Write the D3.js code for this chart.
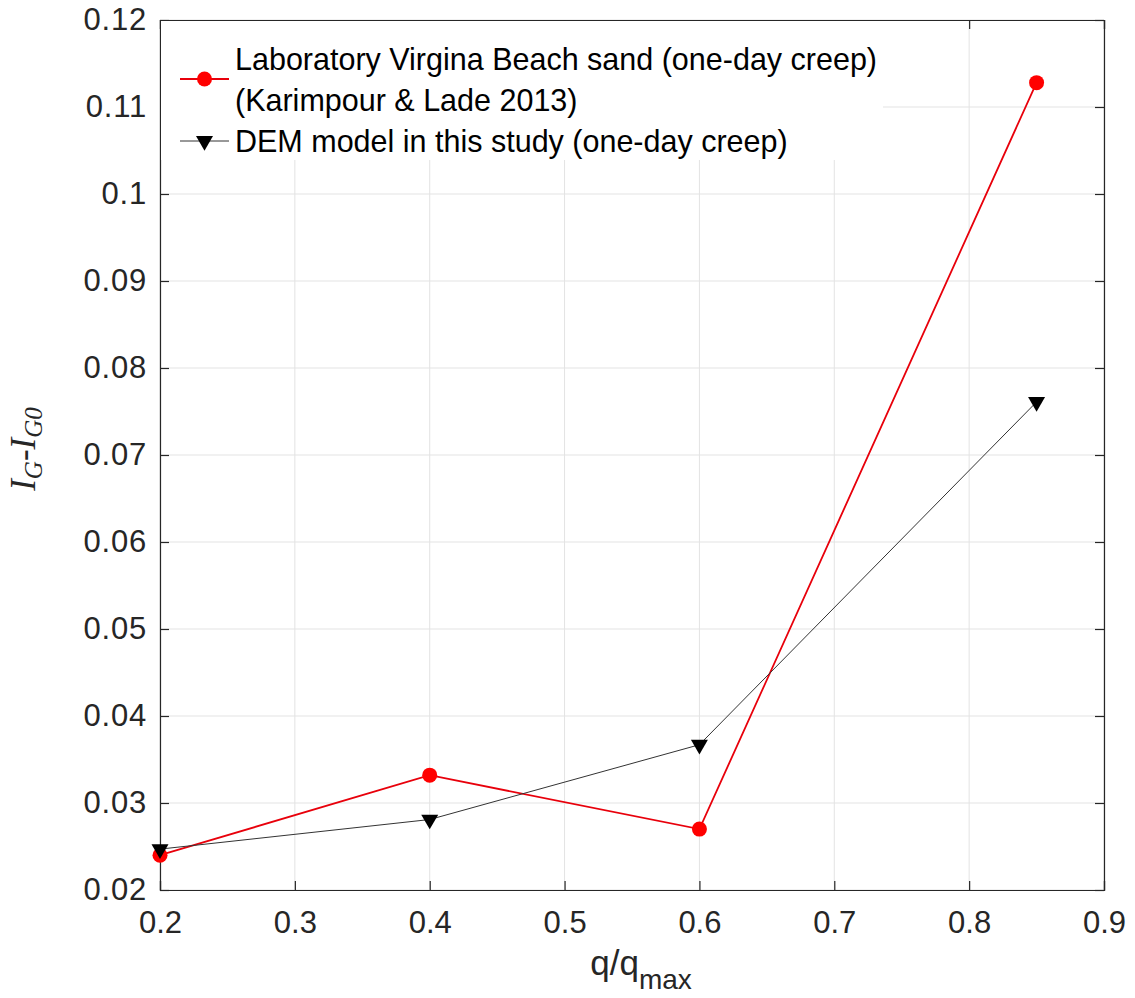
<!DOCTYPE html>
<html>
<head>
<meta charset="utf-8">
<script src="https://cdn.jsdelivr.net/npm/d3@7"></script>
<style>
  html, body { margin: 0; padding: 0; background: #fff; }
  svg { display: block; }
</style>
</head>
<body>
<svg id="chart" width="1135" height="998"></svg>
<script>
// Stress level ratio q/q_max
const qRatio = [0.2, 0.4, 0.6, 0.85];
// Change in grading index I_G - I_G0 after one-day creep
const labValues = [0.0240, 0.0332, 0.0270, 0.1128];
const demValues = [0.0247, 0.0281, 0.0367, 0.0761];

const xTicks = [0.2, 0.3, 0.4, 0.5, 0.6, 0.7, 0.8, 0.9];
const yTicks = [0.02, 0.03, 0.04, 0.05, 0.06, 0.07, 0.08, 0.09, 0.1, 0.11, 0.12];

const legendLabels = [
  ["Laboratory Virgina Beach sand (one-day creep)", "(Karimpour & Lade 2013)"],
  ["DEM model in this study (one-day creep)"]
];

const svg = d3.select("#chart");
const m = { left: 160, top: 20, right: 1104, bottom: 890 };

const x = d3.scaleLinear().domain([0.2, 0.9]).range([m.left, m.right]);
const y = d3.scaleLinear().domain([0.02, 0.12]).range([m.bottom, m.top]);

const axisColor = "#262626";
const font = "Arial, 'Liberation Sans', Helvetica, sans-serif";

// grid
svg.append("g").selectAll("line").data(xTicks).join("line")
  .attr("x1", d => x(d)).attr("x2", d => x(d))
  .attr("y1", m.top).attr("y2", m.bottom)
  .attr("stroke", "#e3e3e3").attr("stroke-width", 1);
svg.append("g").selectAll("line").data(yTicks).join("line")
  .attr("y1", d => y(d)).attr("y2", d => y(d))
  .attr("x1", m.left).attr("x2", m.right)
  .attr("stroke", "#e3e3e3").attr("stroke-width", 1);

// axes (ticks pointing inward, boxed)
const tickLen = 9;
const fmt = d => String(+d.toFixed(2));
const bottomAxis = d3.axisBottom(x).tickValues(xTicks).tickSize(-tickLen).tickPadding(21).tickFormat(fmt);
const leftAxis = d3.axisLeft(y).tickValues(yTicks).tickSize(-tickLen).tickPadding(13).tickFormat(fmt);
const topAxis = d3.axisTop(x).tickValues(xTicks).tickSize(-tickLen).tickFormat("");
const rightAxis = d3.axisRight(y).tickValues(yTicks).tickSize(-tickLen).tickFormat("");

function styleAxis(g) {
  g.select(".domain").attr("stroke", axisColor).attr("stroke-width", 1.2);
  g.selectAll(".tick line").attr("stroke", axisColor).attr("stroke-width", 1.2);
  g.selectAll(".tick text").attr("fill", "#262626")
    .style("font-family", font).style("font-size", "31px");
}
svg.append("g").attr("transform", `translate(0,${m.bottom})`).call(bottomAxis).call(styleAxis);
svg.append("g").attr("transform", `translate(${m.left},0)`).call(leftAxis).call(styleAxis)
  .selectAll(".tick text").style("letter-spacing", "0.8px");
svg.append("g").attr("transform", `translate(0,${m.top})`).call(topAxis).call(styleAxis);
svg.append("g").attr("transform", `translate(${m.right},0)`).call(rightAxis).call(styleAxis);

// axis labels
const xl = svg.append("text")
  .attr("x", 641).attr("y", 975)
  .attr("text-anchor", "middle")
  .style("font-family", font).style("font-size", "35px").attr("fill", "#262626");
xl.append("tspan").text("q/q");
xl.append("tspan").attr("dy", 14).style("font-size", "28px").text("max");

const yl = svg.append("text")
  .attr("transform", `translate(35,${(m.top + m.bottom) / 2 - 6}) rotate(-90)`)
  .attr("text-anchor", "middle")
  .style("font-family", "'Times New Roman', 'Liberation Serif', serif")
  .style("font-size", "35px").style("font-style", "italic").attr("fill", "#262626");
yl.append("tspan").text("I");
yl.append("tspan").attr("dy", 7).style("font-size", "25px").text("G");
yl.append("tspan").attr("dy", -7).text("-I");
yl.append("tspan").attr("dy", 7).style("font-size", "25px").text("G0");

// series
const lab = qRatio.map((q, i) => ({ q, v: labValues[i] }));
const dem = qRatio.map((q, i) => ({ q, v: demValues[i] }));
const line = d3.line().x(d => x(d.q)).y(d => y(d.v));

const tri = d3.symbol().type(d3.symbolTriangle).size(125);
function drawTri(sel) {
  sel.attr("d", tri).attr("fill", "#000");
}

// laboratory series (red line with filled circles)
svg.append("path").datum(lab).attr("d", line)
  .attr("fill", "none").attr("stroke", "#e8000b").attr("stroke-width", 1.8);
svg.append("g").selectAll("circle").data(lab).join("circle")
  .attr("cx", d => x(d.q)).attr("cy", d => y(d.v)).attr("r", 7.5)
  .attr("fill", "#ff0000");

// DEM series (thin dark line with downward triangles)
svg.append("path").datum(dem).attr("d", line)
  .attr("fill", "none").attr("stroke", "#333").attr("stroke-width", 1);
svg.append("g").selectAll("path").data(dem).join("path")
  .attr("transform", d => `translate(${x(d.q)},${y(d.v)}) rotate(180)`)
  .call(drawTri);

// legend
const lg = svg.append("g");
lg.append("rect").attr("x", m.left + 1).attr("y", m.top + 1)
  .attr("width", 722).attr("height", 139).attr("fill", "#fff");
const lx0 = 180, lx1 = 229, lxt = 235;
const baselines = [70, 111, 152];
lg.append("line").attr("x1", lx0).attr("x2", lx1).attr("y1", 79).attr("y2", 79)
  .attr("stroke", "#e8000b").attr("stroke-width", 1.8);
lg.append("circle").attr("cx", (lx0 + lx1) / 2).attr("cy", 79).attr("r", 7.5).attr("fill", "#ff0000");
lg.append("line").attr("x1", lx0).attr("x2", lx1).attr("y1", 141).attr("y2", 141)
  .attr("stroke", "#333").attr("stroke-width", 1);
lg.append("path").attr("transform", `translate(${(lx0 + lx1) / 2},141) rotate(180)`).call(drawTri);

const legendLines = legendLabels.flat();
lg.selectAll("text").data(legendLines).join("text")
  .attr("x", lxt).attr("y", (d, i) => baselines[i])
  .style("font-family", font).style("font-size", "30.5px").attr("fill", "#000")
  .text(d => d);
</script>
</body>
</html>
